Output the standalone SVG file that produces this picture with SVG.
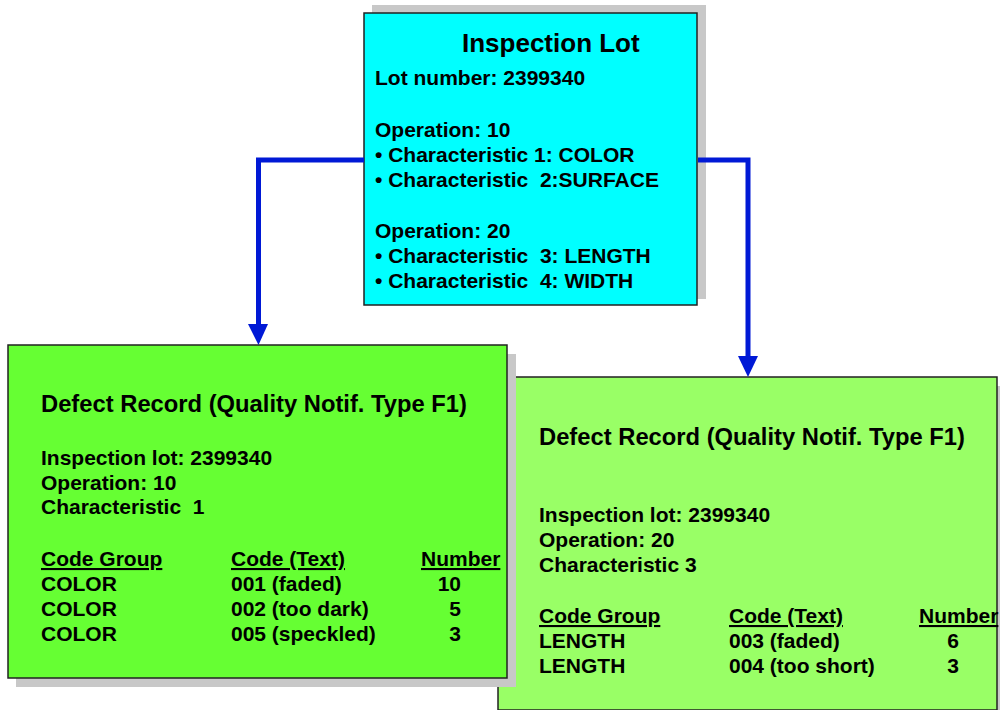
<svg xmlns="http://www.w3.org/2000/svg" width="1000" height="710" viewBox="0 0 1000 710">
<style>
text{font-family:"Liberation Sans",Arial,sans-serif;font-weight:bold;font-size:21px;fill:#000}
.title{font-size:26px}
.dtitle{font-size:23.5px}
.u{text-decoration:underline}
.shadow{fill:#c8c8c8}
.box{stroke:#222;stroke-width:1.5}
.conn{fill:none;stroke:#0019d6;stroke-width:5}
.head{fill:#0019d6}
.num{text-anchor:end}
</style>
<g id="defect-record-2">
<rect class="shadow" x="507" y="386" width="500" height="340"/>
<rect class="box" x="498" y="377" width="499" height="333" fill="#99ff66"/>
<text x="539" y="445" class="dtitle" textLength="426" lengthAdjust="spacingAndGlyphs">Defect Record (Quality Notif. Type F1)</text>
<text x="539" y="522">Inspection lot: 2399340</text>
<text x="539" y="547">Operation: 20</text>
<text x="539" y="572">Characteristic 3</text>
<text x="539" y="623" class="u">Code Group</text>
<text x="729" y="623" class="u">Code (Text)</text>
<text x="919" y="623" class="u">Number</text>
<text x="539" y="648">LENGTH</text>
<text x="729" y="648">003 (faded)</text>
<text x="959" y="648" class="num">6</text>
<text x="539" y="673">LENGTH</text>
<text x="729" y="673">004 (too short)</text>
<text x="959" y="673" class="num">3</text>
</g>
<g id="defect-record-1">
<rect class="shadow" x="16" y="354" width="500" height="333"/>
<rect class="box" x="8" y="345" width="499" height="333" fill="#66ff33"/>
<text x="41" y="412" class="dtitle" textLength="426" lengthAdjust="spacingAndGlyphs">Defect Record (Quality Notif. Type F1)</text>
<text x="41" y="465">Inspection lot: 2399340</text>
<text x="41" y="490">Operation: 10</text>
<text x="41" y="514" xml:space="preserve">Characteristic  1</text>
<text x="41" y="566" class="u">Code Group</text>
<text x="231" y="566" class="u">Code (Text)</text>
<text x="421" y="566" class="u">Number</text>
<text x="41" y="591">COLOR</text>
<text x="231" y="591">001 (faded)</text>
<text x="461" y="591" class="num">10</text>
<text x="41" y="616">COLOR</text>
<text x="231" y="616">002 (too dark)</text>
<text x="461" y="616" class="num">5</text>
<text x="41" y="641">COLOR</text>
<text x="231" y="641">005 (speckled)</text>
<text x="461" y="641" class="num">3</text>
</g>
<g id="inspection-lot">
<rect class="shadow" x="372" y="5" width="334" height="294"/>
<rect class="box" x="364" y="13" width="333" height="292" fill="#00ffff"/>
<text x="462" y="52" class="title">Inspection Lot</text>
<text x="375" y="85">Lot number: 2399340</text>
<text x="375" y="137">Operation: 10</text>
<text x="375" y="162">• Characteristic 1: COLOR</text>
<text x="375" y="187" xml:space="preserve">• Characteristic  2:SURFACE</text>
<text x="375" y="238">Operation: 20</text>
<text x="375" y="263" xml:space="preserve">• Characteristic  3: LENGTH</text>
<text x="375" y="288" xml:space="preserve">• Characteristic  4: WIDTH</text>
</g>
<g id="connectors">
<path class="conn" d="M364,160 H258.5 V326"/>
<path class="head" d="M248,324 H268 L258.5,345 Z"/>
<path class="conn" d="M698,160 H748 V358"/>
<path class="head" d="M738,356 H758 L748,377 Z"/>
</g>
</svg>
